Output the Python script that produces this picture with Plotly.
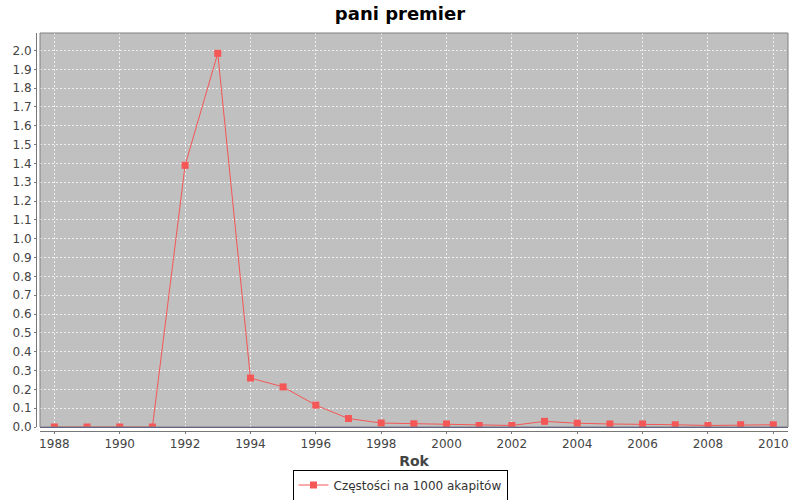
import plotly.graph_objects as go

# Frequency of "pani premier" per 1000 paragraphs, by year
years = list(range(1988, 2011))
frequencies = [
    0.0, 0.0, 0.0, 0.0, 1.39, 1.985, 0.26, 0.213, 0.116, 0.045,
    0.021, 0.017, 0.016, 0.008, 0.008, 0.03, 0.02, 0.016, 0.016,
    0.012, 0.008, 0.012, 0.012,
]
series_name = 'Częstości na 1000 akapitów'
x_ticks = list(range(1988, 2011, 2))
y_ticks = [round(i * 0.1, 1) for i in range(21)]

FONT = 'DejaVu Sans'
RED = '#f55656'
GRID = 'rgba(255,255,255,0.75)'

fig = go.Figure()
fig.add_trace(go.Scatter(
    x=years,
    y=frequencies,
    mode='lines+markers',
    name=series_name,
    line=dict(color=RED, width=1),
    marker=dict(symbol='square', size=7, color=RED),
))

fig.update_layout(
    width=800,
    height=500,
    paper_bgcolor='white',
    plot_bgcolor='#c0c0c0',
    margin=dict(l=36, r=12, t=33, b=69),
    title=dict(
        text='<b>pani premier</b>',
        x=0.5, xanchor='center',
        y=0.972, yanchor='middle',
        font=dict(family=FONT, size=18, color='black'),
    ),
    font=dict(family=FONT, size=12, color='#444444'),
    showlegend=True,
    legend=dict(
        orientation='h',
        xref='container', x=0.5, xanchor='center',
        yref='container', y=0.03, yanchor='middle',
        bordercolor='black', borderwidth=1,
        bgcolor='white',
        font=dict(family=FONT, size=12, color='#333333'),
        itemwidth=30,
    ),
    xaxis=dict(
        domain=[4 / 752, 1],
        anchor='free', position=0,
        automargin=False,
        range=[1987.56, 2010.45],
        tickvals=x_ticks,
        ticks='outside', ticklen=2, tickcolor='#777777',
        showline=True, linecolor='#777777', linewidth=1,
        showgrid=True, gridcolor=GRID, gridwidth=1,
        griddash='2px,2px',
        zeroline=False,
        tickfont=dict(family=FONT, size=12, color='#444444'),
        title=dict(text='<b>Rok</b>', standoff=10,
                   font=dict(family=FONT, size=14, color='#444444')),
    ),
    yaxis=dict(
        domain=[4 / 398, 1],
        anchor='free', position=0,
        automargin=False,
        range=[0, 2.093],
        tickvals=y_ticks,
        tickformat='.1f',
        ticks='outside', ticklen=2, tickcolor='#777777',
        showline=True, linecolor='#777777', linewidth=1,
        showgrid=True, gridcolor=GRID, gridwidth=1,
        griddash='2px,2px',
        zeroline=True, zerolinecolor='#4a4a8a', zerolinewidth=1,
        tickfont=dict(family=FONT, size=12, color='#444444'),
    ),
)

# plot area border
fig.add_shape(
    type='rect', xref='x domain', yref='y domain',
    x0=0, x1=1, y0=0, y1=1,
    line=dict(color='#808080', width=1),
    layer='above',
)

# drop the default page margin so the figure fills the window
fig.write_html(
    'out.html',
    config={'displayModeBar': False},
    post_script="document.body.style.margin='0';",
)
